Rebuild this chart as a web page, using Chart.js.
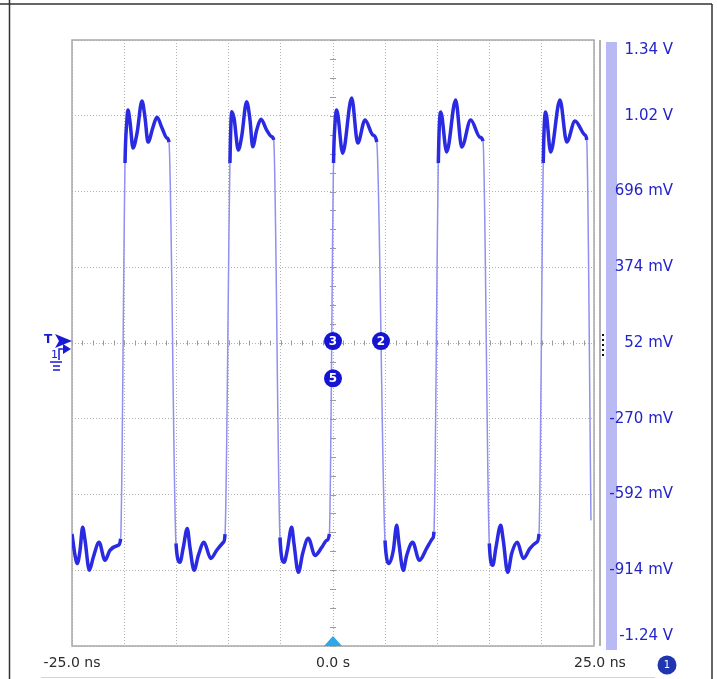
<!DOCTYPE html>
<html lang="en">
<head>
<meta charset="UTF-8">
<title>Scope capture</title>
<script src="https://cdn.jsdelivr.net/npm/chart.js"></script>
<style>
  html, body { margin: 0; padding: 0; background: #fff; }
  #wrap { position: relative; width: 717px; height: 679px; }
</style>
</head>
<body>
<div id="wrap"><canvas id="scope"></canvas></div>
<script>
// --- trace data, read off the capture: [time ns, volts] ---
// each cycle = low part (with ringing) followed by the high pulse
const cycle1 = [
  [-25.0, -0.760], [-24.71, -0.851], [-24.49, -0.885], [-24.23, -0.829], [-23.98, -0.731],
  [-23.75, -0.787], [-23.34, -0.914], [-22.96, -0.859], [-22.41, -0.795], [-21.84, -0.872],
  [-21.36, -0.829], [-20.57, -0.808], [-20.34, -0.780],
  [-19.92, 0.817], [-19.76, 0.987], [-19.64, 1.042], [-19.44, 0.991], [-19.16, 0.881],
  [-18.77, 0.944], [-18.30, 1.081], [-18.01, 1.012], [-17.72, 0.906], [-17.24, 0.970],
  [-16.86, 1.012], [-16.38, 0.966], [-15.90, 0.923], [-15.71, 0.906]
];
const cycle2 = [
  [-15.04, -0.800], [-14.66, -0.880], [-14.34, -0.817], [-13.96, -0.736], [-13.70, -0.817],
  [-13.31, -0.914], [-12.90, -0.851], [-12.36, -0.795], [-11.71, -0.864], [-11.14, -0.829],
  [-10.50, -0.795], [-10.34, -0.760],
  [-9.87, 0.817], [-9.70, 1.035], [-9.48, 1.008], [-9.07, 0.872], [-8.75, 0.929],
  [-8.27, 1.078], [-7.95, 1.000], [-7.69, 0.886], [-7.31, 0.957], [-6.90, 1.003],
  [-6.35, 0.957], [-5.87, 0.929], [-5.68, 0.915]
];
const cycle3 = [
  [-5.08, -0.774], [-4.69, -0.880], [-4.38, -0.829], [-3.96, -0.731], [-3.74, -0.800],
  [-3.32, -0.923], [-2.90, -0.842], [-2.37, -0.778], [-1.72, -0.851], [-1.08, -0.817],
  [-0.60, -0.787], [-0.35, -0.760],
  [0.05, 0.817], [0.20, 0.990], [0.35, 1.042], [0.93, 0.859], [1.79, 1.093],
  [2.37, 0.902], [3.07, 1.000], [3.83, 0.936], [4.19, 0.906]
];
const cycle4 = [
  [4.98, -0.787], [5.39, -0.885], [5.78, -0.829], [6.10, -0.723], [6.32, -0.800],
  [6.73, -0.914], [7.06, -0.851], [7.63, -0.795], [8.27, -0.872], [8.97, -0.821],
  [9.55, -0.778], [9.67, -0.750],
  [10.09, 0.817], [10.32, 1.034], [10.89, 0.864], [11.75, 1.085], [12.33, 0.885],
  [13.19, 1.000], [14.08, 0.927], [14.37, 0.910]
];
const cycle5 = [
  [14.97, -0.800], [15.30, -0.893], [15.61, -0.817], [16.06, -0.723], [16.31, -0.787],
  [16.73, -0.923], [17.12, -0.842], [17.65, -0.795], [18.23, -0.864], [18.87, -0.821],
  [19.51, -0.795], [19.73, -0.760],
  [20.14, 0.817], [20.37, 1.034], [20.85, 0.864], [21.74, 1.085], [22.39, 0.906],
  [23.18, 0.996], [24.14, 0.936], [24.30, 0.915], [24.71, -0.702]
];

// axes
const xGridValues = [-25, -20, -15, -10, -5, 0, 5, 10, 15, 20, 25];
const xLabelValues = [-25, 0, 25];
const xLabels = ['-25.0 ns', '0.0 s', '25.0 ns'];
const yGridValues = [1.34, 1.018, 0.696, 0.374, 0.052, -0.27, -0.592, -0.914, -1.236];
const yLabels = ['1.34 V', '1.02 V', '696 mV', '374 mV', '52 mV', '-270 mV', '-592 mV', '-914 mV', '-1.24 V'];

// cursor / marker badges: [label, time ns, volts]
const markers = [['3', 0, 0.06], ['2', 4.6, 0.06], ['5', 0, -0.098]];

const TRACE = '#2a2ae2';
const EDGE = '#9090f0';
const LABEL_BLUE = '#2323c8';
const FONT = '"DejaVu Sans", Verdana, sans-serif';

const tracePoints = [...cycle1, ...cycle2, ...cycle3, ...cycle4, ...cycle5]
  .map(p => ({ x: p[0], y: p[1] }));

// fast edges (segments that cross from low to high level) are thin and pale
const isEdge = (ctx) => {
  const v0 = ctx.p0.parsed.y;
  const v1 = ctx.p1.parsed.y;
  return Math.min(v0, v1) < 0 && Math.max(v0, v1) > 0;
};

const scopeDecor = {
  id: 'scopeDecor',
  beforeDatasetsDraw(chart) {
    const { ctx, chartArea: a, scales: { x, y } } = chart;
    const cx = x.getPixelForValue(0);
    const cy = y.getPixelForValue(0.052);
    ctx.save();
    ctx.strokeStyle = '#9a9a9a';
    ctx.lineWidth = 1;
    ctx.beginPath();
    // minor ticks along the centre lines
    for (let t = -25; t <= 25; t += 1) {
      const px = Math.round(x.getPixelForValue(t)) + 0.5;
      ctx.moveTo(px, cy - 2.5);
      ctx.lineTo(px, cy + 2.5);
    }
    for (let i = -16; i <= 16; i++) {
      const py = Math.round(y.getPixelForValue(0.052 + i * 0.0805)) + 0.5;
      ctx.moveTo(cx - 3, py);
      ctx.lineTo(cx + 3, py);
    }
    ctx.stroke();
    // plot frame
    ctx.strokeStyle = '#a8a8a8';
    ctx.lineWidth = 1.5;
    ctx.strokeRect(a.left, a.top, a.right - a.left, a.bottom - a.top);
    ctx.restore();
  },
  afterDraw(chart) {
    const { ctx, chartArea: a, scales: { x, y } } = chart;
    ctx.save();

    // window frame
    ctx.strokeStyle = '#333';
    ctx.lineWidth = 1.5;
    ctx.beginPath();
    ctx.moveTo(0, 4); ctx.lineTo(712, 4);
    ctx.moveTo(9.5, 0); ctx.lineTo(9.5, 679);
    ctx.moveTo(712, 4); ctx.lineTo(712, 679);
    ctx.stroke();
    ctx.strokeStyle = '#d4d4d4';
    ctx.lineWidth = 1;
    ctx.beginPath();
    ctx.moveTo(41, 677.5); ctx.lineTo(655, 677.5);
    ctx.stroke();

    // right side: separator and channel bar
    ctx.fillStyle = '#b0b0b0';
    ctx.fillRect(a.right + 5, a.top, 2, a.bottom - a.top);
    ctx.fillStyle = '#b9b9f3';
    ctx.fillRect(a.right + 12, a.top + 2, 11, a.bottom - a.top + 2);
    ctx.fillStyle = '#111';
    for (let i = 0; i < 5; i++) {
      ctx.fillRect(a.right + 8, 334 + i * 5, 2, 2);
    }

    // y labels
    ctx.font = '15px ' + FONT;
    ctx.fillStyle = LABEL_BLUE;
    ctx.textAlign = 'right';
    ctx.textBaseline = 'middle';
    yGridValues.forEach((v, i) => {
      let py = y.getPixelForValue(v);
      if (i === 0) py += 10;
      if (i === yGridValues.length - 1) py -= 10;
      ctx.fillText(yLabels[i], 673, py);
    });

    // x labels
    ctx.font = '14px ' + FONT;
    ctx.fillStyle = '#2b2b2b';
    ctx.textAlign = 'center';
    xLabelValues.forEach((v, i) => {
      let px = x.getPixelForValue(v);
      if (i === xLabelValues.length - 1) px += 6;
      ctx.fillText(xLabels[i], px, 663);
    });

    // trigger position triangle
    const cx = x.getPixelForValue(0);
    ctx.fillStyle = '#2aa8e8';
    ctx.beginPath();
    ctx.moveTo(cx, a.bottom - 10);
    ctx.lineTo(cx + 9, a.bottom);
    ctx.lineTo(cx - 9, a.bottom);
    ctx.closePath();
    ctx.fill();

    // trigger level marker on the left
    const ty = y.getPixelForValue(0.052) - 2;
    ctx.fillStyle = '#1a1ad6';
    ctx.strokeStyle = '#1a1ad6';
    ctx.font = 'bold 12px ' + FONT;
    ctx.textAlign = 'left';
    ctx.fillText('T', 44, ty - 1);
    ctx.beginPath();
    ctx.moveTo(55, ty - 7);
    ctx.lineTo(72, ty);
    ctx.lineTo(55, ty + 7);
    ctx.lineTo(59, ty);
    ctx.closePath();
    ctx.fill();
    ctx.font = '11px ' + FONT;
    ctx.fillText('1', 51, ty + 14);
    ctx.lineWidth = 1.5;
    ctx.beginPath();
    ctx.moveTo(50, ty + 21); ctx.lineTo(62, ty + 21);
    ctx.moveTo(53, ty + 25); ctx.lineTo(60, ty + 25);
    ctx.moveTo(53, ty + 29); ctx.lineTo(60, ty + 29);
    ctx.moveTo(59, ty + 19); ctx.lineTo(59, ty + 8); ctx.lineTo(64, ty + 8);
    ctx.stroke();
    ctx.beginPath();
    ctx.moveTo(63, ty + 3);
    ctx.lineTo(71, ty + 8);
    ctx.lineTo(63, ty + 13);
    ctx.closePath();
    ctx.fill();

    // numbered cursor badges
    ctx.textAlign = 'center';
    ctx.textBaseline = 'middle';
    markers.forEach(m => {
      const px = x.getPixelForValue(m[1]);
      const py = y.getPixelForValue(m[2]);
      ctx.fillStyle = '#1414d2';
      ctx.beginPath();
      ctx.arc(px, py, 9, 0, Math.PI * 2);
      ctx.fill();
      ctx.fillStyle = '#fff';
      ctx.font = 'bold 12px ' + FONT;
      ctx.fillText(m[0], px, py + 0.5);
    });

    // channel badge bottom right
    ctx.fillStyle = '#2036b0';
    ctx.beginPath();
    ctx.arc(667, 665, 9.5, 0, Math.PI * 2);
    ctx.fill();
    ctx.fillStyle = '#fff';
    ctx.font = '10px ' + FONT;
    ctx.fillText('1', 667, 665.5);

    ctx.restore();
  }
};

const gridOpts = {
  color: '#b2b2b2',
  lineWidth: 1,
  drawTicks: false
};

new Chart(document.getElementById('scope'), {
  type: 'line',
  data: {
    datasets: [{
      label: 'Ch1',
      data: tracePoints,
      borderColor: TRACE,
      borderWidth: 3.5,
      pointRadius: 0,
      fill: false,
      cubicInterpolationMode: 'monotone',
      borderJoinStyle: 'round',
      segment: {
        borderColor: ctx => isEdge(ctx) ? EDGE : undefined,
        borderWidth: ctx => isEdge(ctx) ? 1.5 : undefined
      }
    }]
  },
  options: {
    responsive: true,
    maintainAspectRatio: false,
    animation: false,
    layout: { padding: { left: 72, top: 40, right: 123, bottom: 33 } },
    plugins: {
      legend: { display: false },
      tooltip: { enabled: false }
    },
    scales: {
      x: {
        type: 'linear',
        min: -25,
        max: 25,
        afterBuildTicks: s => { s.ticks = xGridValues.map(v => ({ value: v })); },
        ticks: { display: false },
        grid: gridOpts,
        border: { display: false, dash: [1, 2] }
      },
      y: {
        type: 'linear',
        min: -1.236,
        max: 1.34,
        afterBuildTicks: s => { s.ticks = yGridValues.map(v => ({ value: v })); },
        ticks: { display: false },
        grid: gridOpts,
        border: { display: false, dash: [1, 2] }
      }
    }
  },
  plugins: [scopeDecor]
});
</script>
</body>
</html>
